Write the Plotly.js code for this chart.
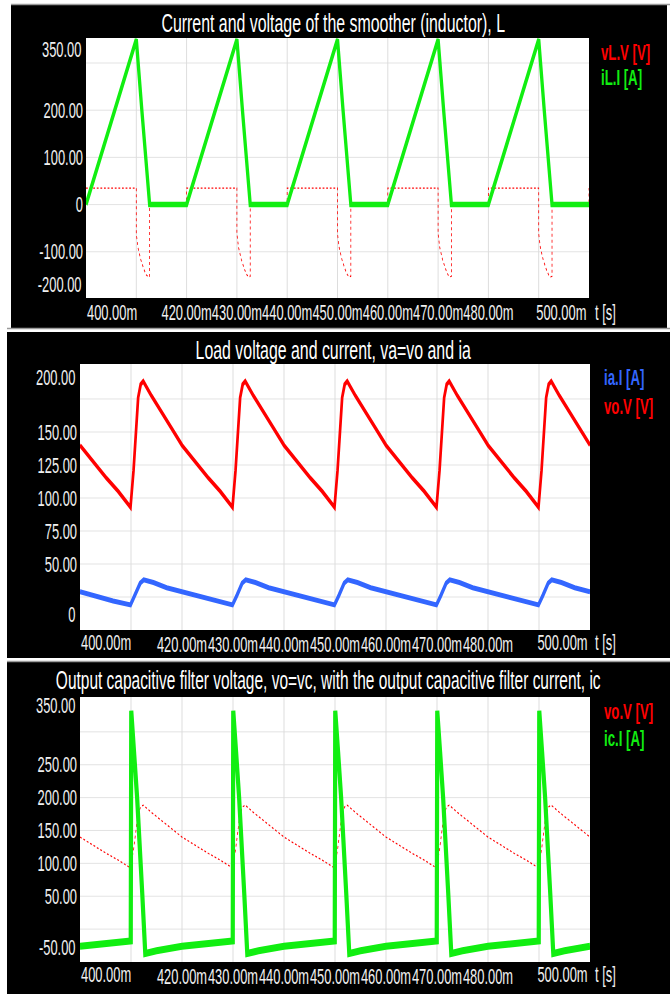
<!DOCTYPE html>
<html>
<head>
<meta charset="utf-8">
<script src="https://cdn.plot.ly/plotly-3.0.1.min.js"></script>
<style>
html,body{margin:0;padding:0;overflow:hidden;background:#fff;}
#wrap{width:670px;height:994px;overflow:hidden;position:relative;}
#chart{width:1117px;height:994px;transform:scaleX(0.59982);transform-origin:0 0;}
</style>
</head>
<body>
<div id="wrap"><div id="chart"></div></div>
<script>
// ---------- data (time in ms) ----------
const tIL = [400,410,411.1,412.65,420,430,431.1,432.65,440,450,451.1,452.65,460,470,471.1,472.65,480,490,491.1,492.65,500];
const iL  = [0,350,200,0,0,350,200,0,0,350,200,0,0,350,200,0,0,350,200,0,0];

const tVL = [400,410,410,410.33,410.87,411.5,411.97,412.37,412.65,412.65,420,
             420,430,430,430.33,430.87,431.5,431.97,432.37,432.65,432.65,440,
             440,450,450,450.33,450.87,451.5,451.97,452.37,452.65,452.65,460,
             460,470,470,470.33,470.87,471.5,471.97,472.37,472.65,472.65,480,
             480,490,490,490.33,490.87,491.5,491.97,492.37,492.65,492.65,500,500];
const vL  = [35,35,-62,-91,-116,-137,-149,-153,-152,0,0,
             35,35,-62,-91,-116,-137,-149,-153,-152,0,0,
             35,35,-62,-91,-116,-137,-149,-153,-152,0,0,
             35,35,-62,-91,-116,-137,-149,-153,-152,0,0,
             35,35,-62,-91,-116,-137,-149,-153,-152,0,0,35];

const tVo = [400,402.6,405.2,407.5,409.9,410.5,411,411.4,411.9,412.4,414,416,418,
             420,422.6,425.2,427.5,429.9,430.5,431,431.4,431.9,432.4,434,436,438,
             440,442.6,445.2,447.5,449.9,450.5,451,451.4,451.9,452.4,454,456,458,
             460,462.6,465.2,467.5,469.9,470.5,471,471.4,471.9,472.4,474,476,478,
             480,482.6,485.2,487.5,489.9,490.5,491,491.4,491.9,492.4,494,496,498,500];
const vo  = [140,127,115,105,93,121,154,176,186,188.5,177.5,164.5,152.5,
             140,127,115,105,93,121,154,176,186,188.5,177.5,164.5,152.5,
             140,127,115,105,93,121,154,176,186,188.5,177.5,164.5,152.5,
             140,127,115,105,93,121,154,176,186,188.5,177.5,164.5,152.5,
             140,127,115,105,93,121,154,176,186,188.5,177.5,164.5,152.5,140];

const tIa = [400,403.3,406.5,409.9,410.8,411.8,412.5,414.4,417,
             420,423.3,426.5,429.9,430.8,431.8,432.5,434.4,437,
             440,443.3,446.5,449.9,450.8,451.8,452.5,454.4,457,
             460,463.3,466.5,469.9,470.8,471.8,472.5,474.4,477,
             480,483.3,486.5,489.9,490.8,491.8,492.5,494.4,497,500];
const ia  = [29,25,22,19,26.5,35.5,38,36,32,
             29,25,22,19,26.5,35.5,38,36,32,
             29,25,22,19,26.5,35.5,38,36,32,
             29,25,22,19,26.5,35.5,38,36,32,
             29,25,22,19,26.5,35.5,38,36,32,29];

const tIc = [400,409.95,410.05,410.6,411.2,412.2,412.8,415,417.5,
             420,429.95,430.05,430.6,431.2,432.2,432.8,435,437.5,
             440,449.95,450.05,450.6,451.2,452.2,452.8,455,457.5,
             460,469.95,470.05,470.6,471.2,472.2,472.8,475,477.5,
             480,489.95,490.05,490.6,491.2,492.2,492.8,495,497.5,500];
const ic  = [-26,-18,332,270,200,55,-37,-33,-29.5,
             -26,-18,332,270,200,55,-37,-33,-29.5,
             -26,-18,332,270,200,55,-37,-33,-29.5,
             -26,-18,332,270,200,55,-37,-33,-29.5,
             -26,-18,332,270,200,55,-37,-33,-29.5,-26];

// ---------- tick labels ----------
const xTickVals = [410,420,430,440,450,460,470,480,490];
const xTickText = ['','420.00m','430.00m','440.00m','450.00m','460.00m','470.00m','480.00m',''];
const xEdgeText = ['400.00m','500.00m','t [s]'];

const y1TickVals = [300,200,100,0,-100];
const y1TickText = ['','200.00','100.00','0','-100.00'];
const y1Edge = ['350.00','-200.00'];
const y2TickVals = [175,150,125,100,75,50,25];
const y2TickText = ['','150.00','125.00','100.00','75.00','50.00',''];
const y2Edge = ['200.00','0'];
const y3TickVals = [300,250,200,150,100,50,0];
const y3TickText = ['','250.00','200.00','150.00','100.00','50.00',''];
const y3Edge = ['350.00','-50.00'];

const titles = ['Current and voltage of the smoother (inductor), L',
                'Load voltage and current, va=vo and ia',
                'Output capacitive filter voltage, vo=vc, with the output capacitive filter current, ic'];
const legend1 = ['vL.V [V]','iL.I [A]'];
const legend2 = ['ia.I [A]','vo.V [V]'];
const legend3 = ['vo.V [V]','ic.I [A]'];

// ---------- styling ----------
const W = 670, H = 994;
const FONT = 'Liberation Sans, Arial, sans-serif';
const RED = '#ff0000', GREEN = '#11ee11', BLUE = '#3366ff', LBL = '#f0f0f0';
const TF = 21.5;
const px = v => v / W;
const py = v => 1 - v / H;

const traces = [
  {x:tVL, y:vL, xaxis:'x', yaxis:'y', mode:'lines', line:{color:RED, width:1.3, dash:'dot'}},
  {x:tIL, y:iL, xaxis:'x', yaxis:'y', mode:'lines', line:{color:GREEN, width:5.5}},
  {x:tIa, y:ia, xaxis:'x2', yaxis:'y2', mode:'lines', line:{color:BLUE, width:5}},
  {x:tVo, y:vo, xaxis:'x2', yaxis:'y2', mode:'lines', line:{color:RED, width:4.5}},
  {x:tVo, y:vo, xaxis:'x3', yaxis:'y3', mode:'lines', line:{color:RED, width:1.3, dash:'dot'}},
  {x:tIc, y:ic, xaxis:'x3', yaxis:'y3', mode:'lines', line:{color:GREEN, width:7}}
];

function xax(dom, anchor){
  return {domain:dom, range:[400,500], anchor:anchor, tickmode:'array', tickvals:xTickVals, ticktext:xTickText,
    tickangle:0, ticks:'', showgrid:true, gridcolor:'#dcdcdc', gridwidth:1.6, zeroline:false, showline:false,
    tickfont:{family:FONT, size:TF, color:LBL}, fixedrange:true};
}
function yax(dom, range, vals, text, anchor){
  return {domain:dom, range:range, anchor:anchor, tickmode:'array', tickvals:vals, ticktext:text,
    ticks:'', showgrid:true, gridcolor:'#dcdcdc', gridwidth:1, zeroline:false, showline:false,
    ticklabelstandoff:4, tickfont:{family:FONT, size:TF, color:LBL}, fixedrange:true};
}

const P = [
  {l:86, r:589, t:38, b:298},
  {l:80, r:590, t:364, b:630},
  {l:80, r:590, t:697, b:962}
];

const ann = [];
function txt(text, x, y, xa, size, color, bold){
  ann.push({text: bold ? '<b>'+text+'</b>' : text, x:x, y:y, xref:'paper', yref:'paper', xanchor:xa, yanchor:'middle',
    showarrow:false, font:{family:FONT, size:size, color:color}});
}
// titles
txt(titles[0], px(333), py(23), 'center', 26.5, '#ffffff');
txt(titles[1], px(333), py(350), 'center', 26.5, '#ffffff');
txt(titles[2], px(328), py(680), 'center', 25.8, '#ffffff');
// legends
txt(legend1[0], px(600), py(52), 'left', 22, RED, true);
txt(legend1[1], px(600), py(78), 'left', 22, GREEN, true);
txt(legend2[0], px(603), py(377), 'left', 22, BLUE, true);
txt(legend2[1], px(603), py(406), 'left', 22, RED, true);
txt(legend3[0], px(603), py(711), 'left', 22, RED, true);
txt(legend3[1], px(603), py(738), 'left', 22, GREEN, true);
// x edge labels
const xLblY = [313, 643, 975];
P.forEach((p,i)=>{
  txt(xEdgeText[0], px(p.l), py(xLblY[i]), 'left', TF, LBL);
  txt(xEdgeText[1], px(p.r - 1), py(xLblY[i]), 'right', TF, LBL);
  txt(xEdgeText[2], px(594), py(xLblY[i]), 'left', TF, LBL);
});
// y edge labels
txt(y1Edge[0], px(83), py(50), 'right', TF, LBL);
txt(y1Edge[1], px(83), py(285), 'right', TF, LBL);
txt(y2Edge[0], px(76.5), py(378), 'right', TF, LBL);
txt(y2Edge[1], px(76.5), py(615), 'right', TF, LBL);
txt(y3Edge[0], px(77), py(706), 'right', TF, LBL);
txt(y3Edge[1], px(77), py(948), 'right', TF, LBL);

// white frame strips between the black panels
const strips = [
  [0,0,670,4],[0,0,11,330],[667,0,670,330],[0,328,670,332],[0,330,7,994],[0,658,670,662]
];
const shapes = strips.map(s=>({type:'rect', xref:'paper', yref:'paper', x0:px(s[0]), x1:px(s[2]), y0:py(s[3]), y1:py(s[1]),
  fillcolor:'#ffffff', line:{width:0}, layer:'above'}));
[4.5, 328.5, 661.5].forEach(y=>shapes.push({type:'line', xref:'paper', yref:'paper', x0:px(y<10?11:7), x1:1, y0:py(y), y1:py(y),
  line:{color:'#9a9a9a', width:1.5}, layer:'above'}));

const layout = {
  width:1117, height:994, margin:{l:0,r:0,t:0,b:0}, paper_bgcolor:'#000000', plot_bgcolor:'#ffffff',
  showlegend:false, hovermode:false,
  xaxis: xax([px(P[0].l), px(P[0].r)], 'y'),
  yaxis: yax([py(P[0].b), py(P[0].t)], [-198,353], y1TickVals, y1TickText, 'x'),
  xaxis2: xax([px(P[1].l), px(P[1].r)], 'y2'),
  yaxis2: yax([py(P[1].b), py(P[1].t)], [0,201.5], y2TickVals, y2TickText, 'x2'),
  xaxis3: xax([px(P[2].l), px(P[2].r)], 'y3'),
  yaxis3: yax([py(P[2].b), py(P[2].t)], [-50,353], y3TickVals, y3TickText, 'x3'),
  annotations: ann,
  shapes: shapes
};

Plotly.newPlot('chart', traces, layout, {displayModeBar:false, staticPlot:true});
</script>
</body>
</html>
